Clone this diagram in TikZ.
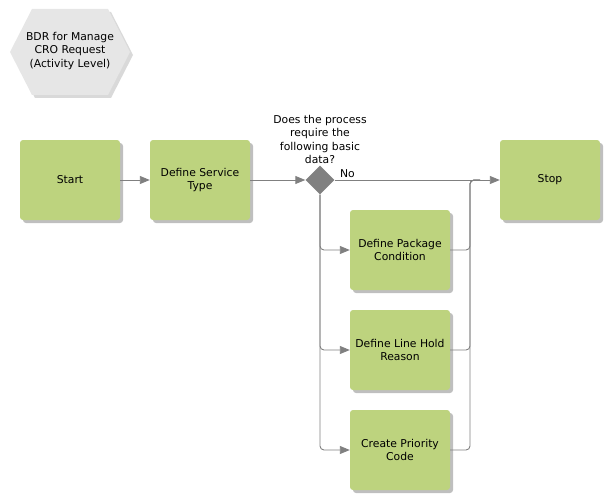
\documentclass[tikz,border=0pt]{standalone}
\usepackage{fontspec}
\setmainfont{DejaVu Sans}
\usetikzlibrary{shapes.geometric,shadows,arrows.meta}
\definecolor{boxgreen}{HTML}{BDD37E}
\definecolor{linegray}{HTML}{808080}
\definecolor{hexgray}{HTML}{E6E6E6}
\begin{document}
\begin{tikzpicture}[x=1pt,y=-1pt,
  txt/.style={font=\fontsize{10.8}{13.3}\selectfont, align=center, text=black},
  stepbox/.style={txt, rectangle, rounded corners=3pt, fill=boxgreen, minimum width=100pt, minimum height=80pt, inner sep=2pt,
    drop shadow={shadow xshift=3pt, shadow yshift=-3pt, fill=black, opacity=0.25}},
  dec/.style={diamond, aspect=1, fill=linegray, minimum width=29pt, minimum height=29pt, inner sep=0pt},
  conn/.style={draw=linegray, line width=0.9pt},
  arr/.style={conn, -{Triangle[length=10pt,width=8pt]}},
]
\useasboundingbox (0,0) rectangle (610,500);
% title hexagon
\path[fill=hexgray, drop shadow={shadow xshift=3pt, shadow yshift=-3pt, fill=black, opacity=0.15}]
  (10,52) -- (32,9) -- (108,9) -- (130,52) -- (108,95) -- (32,95) -- cycle;
\node[txt] (title) at (70,51) {BDR for Manage\\CRO Request\\(Activity Level)};
% boxes
\node[stepbox] (start) at (70,180) {Start};
\node[stepbox] (dst) at (200,180) {Define Service\\Type};
\node[stepbox] (stop) at (550,180) {Stop};
\node[stepbox] (dpc) at (400,250) {Define Package\\Condition};
\node[stepbox] (dlh) at (400,350) {Define Line Hold\\Reason};
\node[stepbox] (cpc) at (400,450) {Create Priority\\Code};
% decision
\node[dec] (d) at (320,180) {};
\node[txt, anchor=south] (q) at (320,167) {Does the process\\require the\\following basic\\data?};
\coordinate (j) at (470,180);
\coordinate (j2) at (480,180);
% connectors
\draw[arr] (start) -- (dst);
\draw[arr] (dst) -- (d.west);
\draw[arr] (d.east) -- node[txt, pos=0, anchor=south west, inner sep=2pt, xshift=3pt] (no) {No} (stop.west);
\draw[arr, rounded corners=4pt] (d.south) |- (dpc.west);
\draw[arr, rounded corners=4pt] (d.south) |- (dlh.west);
\draw[arr, rounded corners=4pt] (d.south) |- (cpc.west);
\draw[conn, rounded corners=4pt] (dpc.east) -| (j) -- (j2);
\draw[conn, rounded corners=4pt] (dlh.east) -| (j) -- (j2);
\draw[conn, rounded corners=4pt] (cpc.east) -| (j) -- (j2);
\end{tikzpicture}
\end{document}
